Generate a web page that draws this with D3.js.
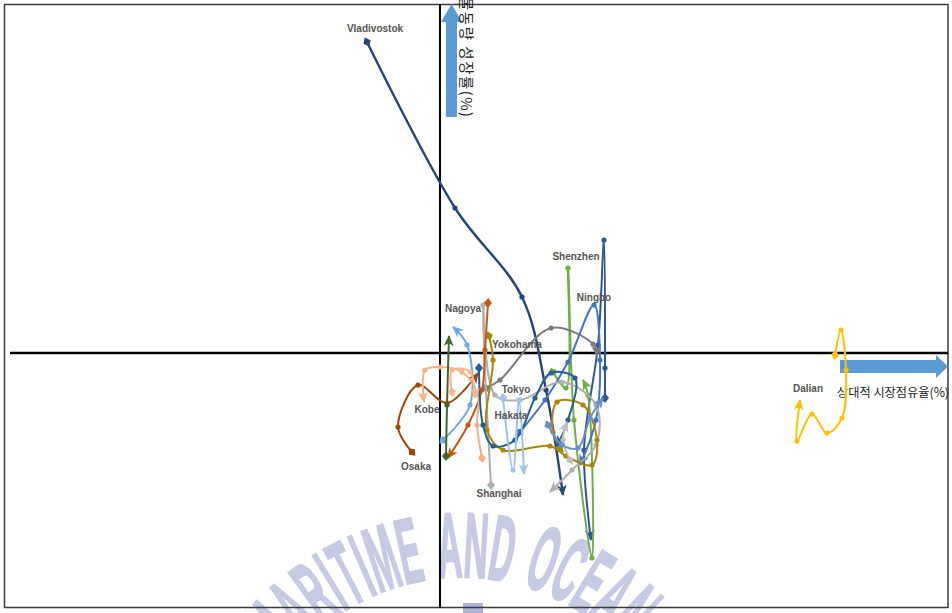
<!DOCTYPE html>
<html>
<head>
<meta charset="utf-8">
<script src="https://cdn.jsdelivr.net/npm/d3@7"></script>
<style>
  body { margin: 0; background: #fff; }
  svg { display: block; }
</style>
</head>
<body>
<svg id="chart" width="952" height="613"></svg>
<script>
// Port trajectories: relative market share (x) against throughput growth (y), one point per year.
const ports = ["Vladivostok", "", "Shenzhen", "Ningbo", "Tokyo", "Shanghai", "Yokohama", "Dalian",
               "Osaka", "Nagoya", "Kobe", "", "", "Hakata", "", "", "", ""];

const shareX = [
  [-7.3, 1.5, 8.2, 10.6, 12.3],
  [16.5, 16.5, 16.4, 15.8, 14.4, 15.1],
  [11.3, 12.6, 12.8, 13.4, 15.2, 14.8, 14.3],
  [8.0, 10.5, 12.8, 15.4, 16.0, 15.6, 14.0],
  [4.6, 6.0, 11.1, 15.3, 15.7],
  [5.1, 4.3, 5.5, 8.0, 12.2, 15.6, 15.6, 13.2, 11.0],
  [4.9, 5.3, 4.7, 6.3, 11.0, 12.6, 15.2, 15.7, 14.3, 11.7, 11.3, 12.3],
  [39.5, 40.1, 40.6, 40.2, 38.7, 37.2, 35.7, 36.0],
  [-2.8, -4.2, -2.2, 0.7, 3.8],
  [4.8, 4.5, 4.2, 2.8, 0.8],
  [4.2, 3.7, 3.8, 2.2, 0.0, -1.5, -1.6],
  [0.3, 3.0, 2.7, 1.3],
  [0.6, 0.7, 0.9],
  [3.9, 4.3, 5.3, 7.5, 9.5, 11.1, 13.5, 12.8, 11.7],
  [6.3, 7.3, 7.9, 8.4],
  [13.0, 12.3, 12.7],
  [10.8, 12.2, 13.8, 15.0, 16.3],
  [1.2, 1.2, 3.0, 3.5]
];

const growthY = [
  [31.1, 14.5, 5.6, -3.7, -14.2],
  [-4.5, -1.5, 11.3, 0.8, -9.7, -18.7],
  [-1.9, -3.5, 8.5, -6.7, -20.5, -4.2, -2.7],
  [-7.9, -4.7, -0.9, 4.8, -0.7, -6.7, -11.2],
  [-3.5, -2.7, 2.5, 0.9, -0.3],
  [-13.2, 4.8, -4.2, -4.7, -2.9, -5.2, -9.2, -11.7, -13.9],
  [1.7, -0.7, -7.7, -9.7, -9.3, -10.3, -11.2, -8.7, -5.2, -4.9, -7.9, -9.9],
  [-0.2, 2.3, -1.7, -6.5, -8.0, -6.1, -8.8, -4.7],
  [-9.9, -7.4, -3.2, -5.0, -2.0],
  [5.0, 0.3, -3.7, -7.2, -10.5],
  [-10.5, -7.2, -4.2, -1.9, -1.4, -1.7, -4.9],
  [-8.7, -5.2, 0.8, 2.6],
  [-10.3, -5.2, 1.7],
  [-1.5, -7.2, -9.3, -8.7, -4.5, -2.0, -2.5, -6.7, -9.3],
  [-4.5, -11.7, -4.7, -12.1],
  [-10.7, -8.7, -6.9],
  [-7.2, -9.2, -9.5, -6.5, -4.5],
  [-3.9, -1.7, -1.9, -4.5]
];

const xAxisTitle = "상대적 시장점유율(%)";
const yAxisTitle = "물동량 성장률(%)";
const watermark = "KOREA MARITIME AND OCEAN UNIVERSITY";

// Line colours, one per trajectory
const colors = ["#264478", "#2f5597", "#70ad47", "#4472c4", "#7a7a7a", "#b0b0b0", "#a8860a", "#ffc000",
                "#9e480e", "#c55a11", "#f4b183", "#6fa8dc", "#43682b", "#255e91", "#9dc3e6", "#bfbfbf",
                "#698ed0", "#f8b88b"];

// Label placement: [point index, dx, dy] relative to that point (pixels)
const labelPlacement = {
  0: [0, 8, -10], 2: [2, 8, -8], 3: [3, 0, -4], 4: [0, 30, 5], 5: [0, 8, 12],
  6: [0, 28, 12], 7: [-1, 8, -8], 8: [0, 4, 18], 9: [0, -25, 9], 10: [-1, 3, 11], 13: [2, 18, -27]
};

const svg = d3.select("#chart");
const W = 952, H = 613;

const x = d3.scaleLinear().domain([-43.5, 50.8]).range([5, 948]);
const y = d3.scaleLinear().domain([-25.5, 34.9]).range([608, 4]);

// ---- watermark arc (drawn first, behind everything) ----
const wmColor = "#c6cae4";
const wmG = svg.append("g")
  .attr("fill", wmColor)
  .attr("stroke", wmColor)
  .attr("stroke-width", 2)
  .attr("font-family", "'Liberation Sans Narrow','Liberation Sans',Arial,sans-serif")
  .attr("font-weight", "bold")
  .attr("font-size", 92);
const probe = wmG.append("text").text("N");
const sx = 24 / probe.node().getComputedTextLength();
probe.remove();
const wmChars = Array.from(watermark);
const widths = wmChars.map(c => {
  if (c === " ") return 12;
  const t = wmG.append("text").text(c);
  const w = t.node().getComputedTextLength() * sx;
  t.remove();
  return w;
});
const gap = 3;
const centres = [];
let run = 0;
widths.forEach(w => { centres.push(run + w / 2); run += w + gap; });
const pivot = watermark.indexOf("AND");
const arcCx = 462, arcCy = 797, arcRb = 220, arcRm = 253, theta0 = -0.05;
wmChars.forEach((c, i) => {
  if (c === " ") return;
  const th = theta0 + (centres[i] - centres[pivot]) / arcRm;
  const px = arcCx + arcRb * Math.sin(th);
  const py = arcCy - arcRb * Math.cos(th);
  // letters whose glyph lies wholly below the page are not drawn
  const topY = arcCy - (arcRb + 66) * Math.cos(th);
  if (topY > H - 2) return;
  wmG.append("text")
    .attr("text-anchor", "middle")
    .attr("vector-effect", "non-scaling-stroke")
    .attr("transform", `translate(${px},${py}) rotate(${th * 180 / Math.PI}) scale(${sx},1)`)
    .text(c);
});
// emblem edge peeking in at the bottom
svg.append("rect").attr("x", 463).attr("y", 603).attr("width", 20).attr("height", 10).attr("fill", "#aeb3d8");

// ---- frame ----
svg.append("rect")
  .attr("x", 4.5).attr("y", 4.5).attr("width", 943.5).attr("height", 603)
  .attr("fill", "none").attr("stroke", "#3a3a3a").attr("stroke-width", 1.5);

// ---- quadrant axes ----
const x0 = x(0), y0 = y(0);
svg.append("line")
  .attr("x1", x0).attr("x2", x0).attr("y1", y.range()[1]).attr("y2", y.range()[0])
  .attr("stroke", "#000").attr("stroke-width", 2);
svg.append("line")
  .attr("x1", x.range()[0] + 5).attr("x2", x.range()[1]).attr("y1", y0).attr("y2", y0)
  .attr("stroke", "#000").attr("stroke-width", 2.5);

// block arrows beside the axes
const arrowBlue = "#5b9bd5";
svg.append("path")
  .attr("d", `M${x0 + 6},117 L${x0 + 17},117 L${x0 + 17},22 L${x0 + 22},22 L${x0 + 11.5},4 L${x0 + 1},22 L${x0 + 6},22 Z`)
  .attr("fill", arrowBlue);
const rx = x.range()[1];
svg.append("path")
  .attr("d", `M840,${y0 + 7} L${rx - 12},${y0 + 7} L${rx - 12},${y0 + 2} L${rx},${y0 + 13.5} L${rx - 12},${y0 + 25} L${rx - 12},${y0 + 20} L840,${y0 + 20} Z`)
  .attr("fill", arrowBlue);

// axis titles
svg.append("text")
  .attr("transform", `translate(${x0 + 21},-3) rotate(90)`)
  .attr("font-family", "'Noto Sans CJK KR', sans-serif")
  .attr("font-size", 14.5)
  .attr("fill", "#222")
  .attr("textLength", 120)
  .attr("lengthAdjust", "spacing")
  .text(yAxisTitle);
svg.append("text")
  .attr("x", 837).attr("y", y0 + 44)
  .attr("font-family", "'Noto Sans CJK KR', sans-serif")
  .attr("font-size", 12.5)
  .attr("fill", "#222")
  .attr("textLength", 112)
  .attr("lengthAdjust", "spacingAndGlyphs")
  .text(xAxisTitle);

// ---- trajectories ----
const defs = svg.append("defs");
colors.forEach((c, i) => {
  defs.append("marker")
    .attr("id", "arr" + i).attr("viewBox", "-11 -6 13 12")
    .attr("refX", 0).attr("refY", 0)
    .attr("markerWidth", 13).attr("markerHeight", 12)
    .attr("markerUnits", "userSpaceOnUse").attr("orient", "auto")
    .append("path").attr("d", "M-10,-5 L1,0 L-10,5 L-7,0 Z").attr("fill", c);
  defs.append("marker")
    .attr("id", "dia" + i).attr("viewBox", "-6 -6 12 12")
    .attr("refX", 0).attr("refY", 0)
    .attr("markerWidth", 12).attr("markerHeight", 12)
    .attr("markerUnits", "userSpaceOnUse").attr("orient", "auto")
    .append("path").attr("d", "M-5,0 L0,-4 L5,0 L0,4 Z").attr("fill", c);
});

const line = d3.line()
  .x(d => x(d[0])).y(d => y(d[1]))
  .curve(d3.curveCatmullRom.alpha(0.5));

const series = ports.map((name, i) => ({
  name, i, color: colors[i],
  pts: shareX[i].map((v, k) => [v, growthY[i][k]])
}));

const traj = svg.append("g");
series.forEach(s => {
  const g = traj.append("g");
  g.append("path")
    .attr("d", line(s.pts))
    .attr("fill", "none")
    .attr("stroke", s.color)
    .attr("stroke-width", s.i === 0 ? 2.4 : 2)
    .attr("stroke-linejoin", "round")
    .attr("marker-start", `url(#dia${s.i})`)
    .attr("marker-end", `url(#arr${s.i})`);
  g.selectAll("circle")
    .data(s.pts.slice(1, -1))
    .join("circle")
    .attr("cx", d => x(d[0])).attr("cy", d => y(d[1]))
    .attr("r", 2.6)
    .attr("fill", s.color);
});

// ---- port labels ----
const labels = svg.append("g")
  .attr("font-family", "'Liberation Sans', Arial, sans-serif")
  .attr("font-size", 10)
  .attr("font-weight", "bold")
  .attr("fill", "#555")
  .attr("text-anchor", "middle");
series.forEach(s => {
  const lp = labelPlacement[s.i];
  if (!lp || !s.name) return;
  const p = lp[0] < 0 ? s.pts[s.pts.length + lp[0]] : s.pts[lp[0]];
  labels.append("text")
    .attr("x", x(p[0]) + lp[1])
    .attr("y", y(p[1]) + lp[2])
    .text(s.name);
});
</script>
</body>
</html>
